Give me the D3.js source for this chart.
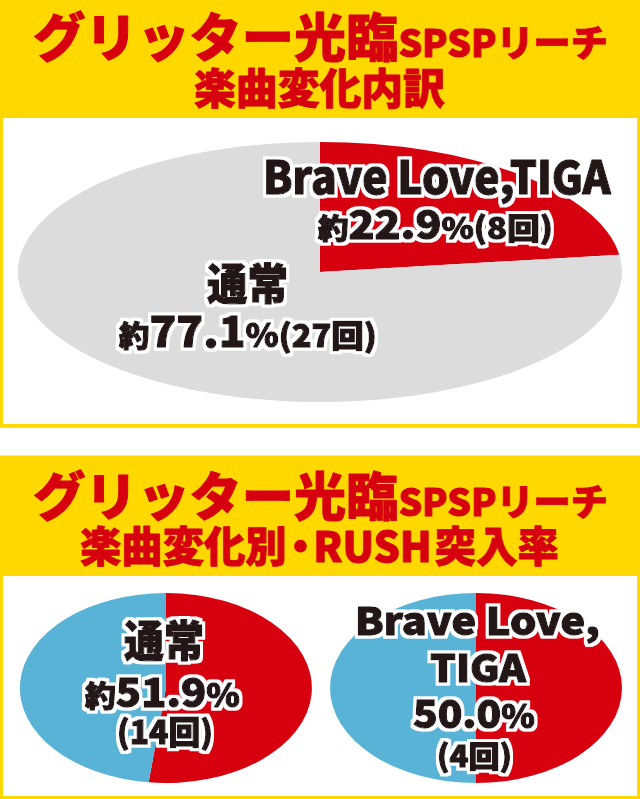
<!DOCTYPE html>
<html><head><meta charset="utf-8">
<script src="https://cdn.jsdelivr.net/npm/d3@7"></script>
<style>
html,body{margin:0;padding:0;background:#fff;}
svg{display:block;}
text{font-family:"Noto Sans CJK JP","Noto Sans",sans-serif;font-weight:900;}
</style></head>
<body>
<script>
// ---- data ----
const titleMain = "グリッター光臨";
const titleSub = "SPSPリーチ";
const title1Line2 = "楽曲変化内訳";
const title2Line2 = ["楽曲変化別", "・", "RUSH", "突入率"];

const songCategories = ["Brave Love,TIGA", "通常"];
const songShares = [22.9, 77.1];
const songCounts = [8, 27];

const rushCategories = ["通常", "Brave Love,TIGA"];
const rushRates = [51.9, 50.0];
const rushCounts = [14, 4];

// ---- setup ----
const W = 640, H = 799;
const RED = "#d7000f", GRAY = "#dcdcdc", BLUE = "#59b3d6", YELLOW = "#ffd800", INK = "#231815";

const svg = d3.select("body").append("svg").attr("width", W).attr("height", H);

// white outline filter
const f = svg.append("defs").append("filter").attr("id", "halo")
  .attr("x", "-10%").attr("y", "-30%").attr("width", "120%").attr("height", "160%");
f.append("feMorphology").attr("in", "SourceAlpha").attr("operator", "dilate").attr("radius", 3).attr("result", "d");
f.append("feFlood").attr("flood-color", "#fff").attr("result", "w");
f.append("feComposite").attr("in", "w").attr("in2", "d").attr("operator", "in").attr("result", "halo");
const m = f.append("feMerge");
m.append("feMergeNode").attr("in", "halo");
m.append("feMergeNode").attr("in", "SourceGraphic");

// fit a text element horizontally between x0 and x1
function fit(sel, x0, x1) {
  const b = sel.node().getBBox();
  const s = (x1 - x0) / b.width;
  sel.attr("transform", `translate(${x0 - b.x * s},0) scale(${s},1)`);
}
function segText(g, segs, y, x0, x1, opts) {
  const t = g.append("text").attr("x", 0).attr("y", y);
  segs.forEach(([s, size, dx]) => {
    const sp = t.append("tspan").attr("font-size", size).text(s);
    if (dx) sp.attr("dx", dx);
  });
  if (opts && opts.fill) {
    t.attr("fill", opts.fill).attr("stroke", opts.fill).attr("stroke-width", 0.9).attr("stroke-linejoin", "round");
  }
  if (opts && opts.outline) {
    t.attr("fill", INK).attr("stroke", INK).attr("stroke-width", 1.3)
     .attr("stroke-linejoin", "round").attr("filter", "url(#halo)");
  }
  fit(t, x0, x1);
  return t;
}

// ---- panels ----
function panel(y0, y1, innerTop) {
  svg.append("rect").attr("x", 0).attr("y", y0).attr("width", W).attr("height", y1 - y0).attr("fill", YELLOW);
  svg.append("rect").attr("x", 3).attr("y", innerTop).attr("width", W - 6).attr("height", y1 - 3 - innerTop).attr("fill", "#fff");
}
panel(0, 427, 118);
svg.append("rect").attr("x", 0).attr("y", 427).attr("width", W).attr("height", 1).attr("fill", "#d4d4d4");
svg.append("rect").attr("x", 0).attr("y", 455).attr("width", W).attr("height", 1).attr("fill", "#e4e4e4");
panel(456, 799, 576);

// ---- titles ----
const g1 = svg.append("g");
segText(g1, [[titleMain, 52], [titleSub, 37]], 57, 33, 608, {fill: RED});
segText(g1, [[title1Line2, 42]], 104, 194, 445, {fill: RED});
const g2 = svg.append("g");
segText(g2, [[titleMain, 52], [titleSub, 37]], 516, 33, 608, {fill: RED});
segText(g2, [[title2Line2[0], 42], [title2Line2[1], 42, -7], [title2Line2[2], 42, -8], [title2Line2[3], 42, 3]], 562, 80, 559, {fill: RED});

// ---- pie helpers ----
const pie = d3.pie().sort(null).value(d => d).startAngle(0).endAngle(2 * Math.PI);
const arc = d3.arc().innerRadius(0).outerRadius(1);

function ellipsePie(cx, cy, rx, ry, values, colors) {
  const g = svg.append("g").attr("transform", `translate(${cx},${cy}) scale(${rx},${ry})`);
  g.selectAll("path").data(pie(values)).join("path")
    .attr("d", arc).attr("fill", (d, i) => colors[i]);
}

// Top pie: song change breakdown
ellipsePie(320, 272, 302, 130, songShares, [RED, GRAY]);
const gl = svg.append("g");
segText(gl, [[songCategories[0], 45]], 194, 263, 612, {outline: true});
segText(gl, [["約", 28], [songShares[0].toFixed(1), 39], ["%", 30], ["(" + songCounts[0] + "回)", 30]], 239, 318, 553, {outline: true});
segText(gl, [[songCategories[1], 43]], 300, 207, 288, {outline: true});
segText(gl, [["約", 29], [songShares[1].toFixed(1), 42], ["%", 32], ["(" + songCounts[1] + "回)", 31]], 347, 119, 377, {outline: true});

// Bottom pies: RUSH rate per song change
ellipsePie(166, 688, 146, 95, [rushRates[0], 100 - rushRates[0]], [RED, BLUE]);
ellipsePie(476, 688, 146, 95, [rushRates[1], 100 - rushRates[1]], [RED, BLUE]);

const gb = svg.append("g");
segText(gb, [[rushCategories[0], 43]], 657, 124, 204, {outline: true});
segText(gb, [["約", 29], [rushRates[0].toFixed(1), 39], ["%", 32]], 707, 85, 240, {outline: true});
segText(gb, [["(" + rushCounts[0] + "回)", 32]], 744, 117, 213, {outline: true});

const parts = rushCategories[1].split(",");
segText(gb, [[parts[0] + ",", 38]], 635, 355, 600, {outline: true});
segText(gb, [[parts[1], 38]], 682, 430, 527, {outline: true});
segText(gb, [[rushRates[1].toFixed(1), 38], ["%", 32]], 728, 413, 535, {outline: true});
segText(gb, [["(" + rushCounts[1] + "回)", 30]], 767, 437, 512, {outline: true});
</script>
</body></html>
